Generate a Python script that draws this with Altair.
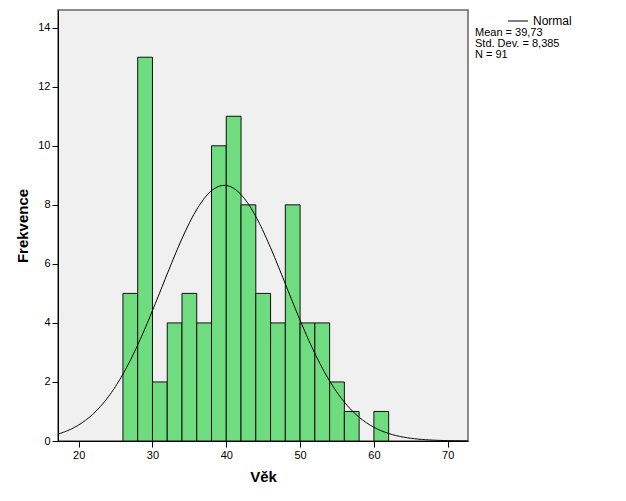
import altair as alt
import numpy as np
import pandas as pd

# Histogram data (Věk), bin width 2
bin_starts = [26, 28, 30, 32, 34, 36, 38, 40, 42, 44, 46, 48, 50, 52, 54, 56, 58, 60]
counts = [5, 13, 2, 4, 5, 4, 10, 11, 8, 5, 4, 8, 4, 4, 2, 1, 0, 1]
bin_width = 2

# Summary statistics shown in the legend
mean = 39.73
std_dev = 8.385
n_total = 91
stats_lines = ["Mean = 39,73", "Std. Dev. = 8,385", "N = 91"]

x_ticks = [20, 30, 40, 50, 60, 70]
y_ticks = [0, 2, 4, 6, 8, 10, 12, 14]
x_domain = [17.2, 72.75]
y_domain = [0, 14.6]

bars = pd.DataFrame({
    "start": bin_starts,
    "end": [s + bin_width for s in bin_starts],
    "count": counts,
})
bars = bars[bars["count"] > 0]

# Normal curve implied by the mean / std. dev. / N above
xs = np.linspace(x_domain[0], x_domain[1], 300)
dens = n_total * bin_width * np.exp(-0.5 * ((xs - mean) / std_dev) ** 2) / (std_dev * np.sqrt(2 * np.pi))
curve = pd.DataFrame({"x": xs, "y": dens})

xscale = alt.Scale(domain=x_domain, nice=False, zero=False)
yscale = alt.Scale(domain=y_domain, nice=False)

xaxis = alt.Axis(values=x_ticks, title="Věk", grid=False, tickSize=6, labelFontSize=11,
                 titleFontSize=15, titleFontWeight="bold", titlePadding=9,
                 domainColor="black", tickColor="black", labelColor="black", titleColor="black",
                 labelPadding=2)
yaxis = alt.Axis(values=y_ticks, title="Frekvence", grid=False, tickSize=6, labelFontSize=11,
                 titleFontSize=15, titleFontWeight="bold", titlePadding=7,
                 domainColor="black", tickColor="black", labelColor="black", titleColor="black",
                 labelPadding=2)

bar_layer = alt.Chart(bars).mark_rect(fill="#70DC80", stroke="#111111", strokeWidth=1).encode(
    x=alt.X("start:Q", scale=xscale, axis=xaxis),
    x2="end:Q",
    y=alt.Y("count:Q", scale=yscale, axis=yaxis),
    y2=alt.datum(0),
)

line_layer = alt.Chart(curve).mark_line(color="black", strokeWidth=1, clip=True).encode(
    x=alt.X("x:Q", scale=xscale),
    y=alt.Y("y:Q", scale=yscale),
)

one = pd.DataFrame({"label": ["Normal"]})
legend_rule = alt.Chart(one).mark_rule(color="#555555", strokeWidth=1.5).encode(
    x=alt.value(450), x2=alt.value(470), y=alt.value(11)
)
legend_text = alt.Chart(one).mark_text(align="left", baseline="middle", fontSize=12,
                                       color="black").encode(
    x=alt.value(475), y=alt.value(11), text="label:N"
)

stat_layers = []
for i, line in enumerate(stats_lines):
    df = pd.DataFrame({"line": [line]})
    stat_layers.append(
        alt.Chart(df).mark_text(align="left", baseline="middle", fontSize=11,
                                color="black").encode(
            x=alt.value(417), y=alt.value(23 + 11 * i), text="line:N"
        )
    )

chart = alt.layer(bar_layer, line_layer, legend_rule, legend_text, *stat_layers).properties(
    width=410, height=431,
    autosize=alt.AutoSizeParams(type="none"),
    padding={"left": 50, "top": 2, "right": 150, "bottom": 52},
    background="white",
).configure(
    font="Liberation Sans"
).configure_view(
    fill="#F0F0F0", stroke="#666666", strokeWidth=1.5
)

chart.save("out.html", embed_options={"renderer": "svg", "actions": False})
